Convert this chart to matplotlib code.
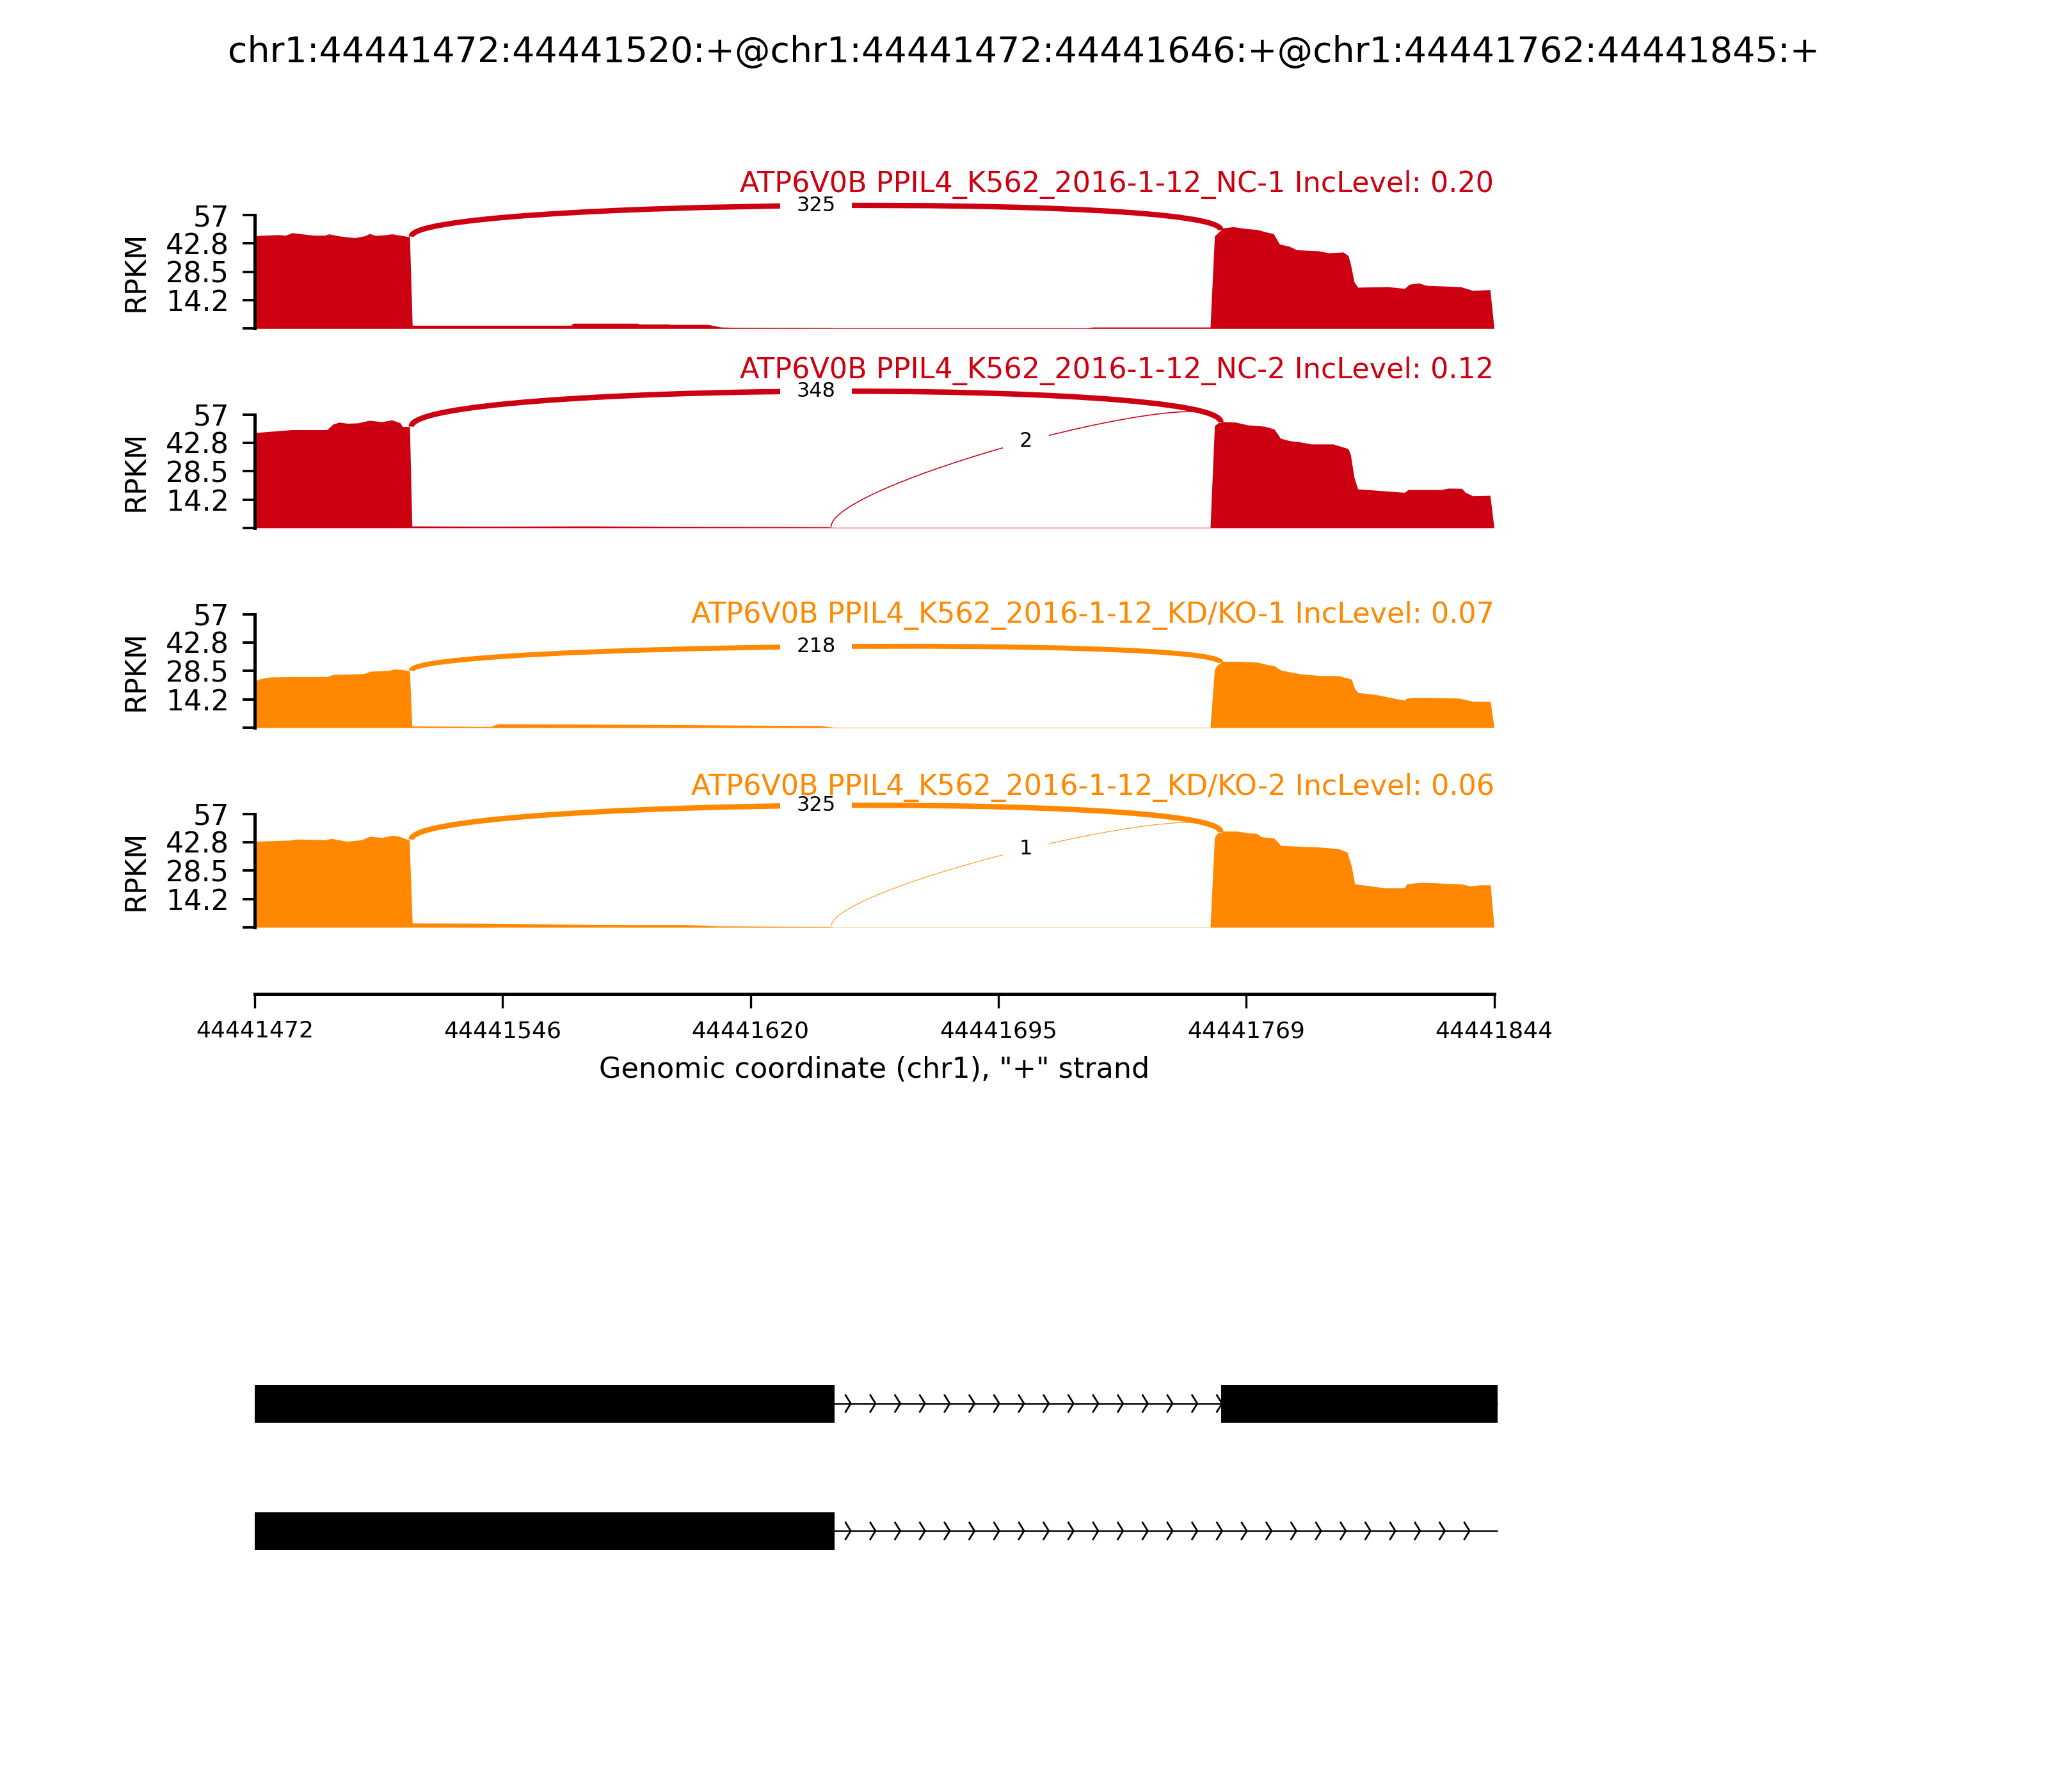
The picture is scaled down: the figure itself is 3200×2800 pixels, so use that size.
import math
import matplotlib
matplotlib.use('Agg')
import matplotlib.pyplot as plt
import numpy as np
from matplotlib.path import Path
from matplotlib.patches import PathPatch, Rectangle

plt.rcParams['font.family'] = ['DejaVu Sans']

event_title = 'chr1:44441472:44441520:+@chr1:44441472:44441646:+@chr1:44441762:44441845:+'
x_start = 44441472
x_end = 44441844

sample_names = ['ATP6V0B PPIL4_K562_2016-1-12_NC-1',
                'ATP6V0B PPIL4_K562_2016-1-12_NC-2',
                'ATP6V0B PPIL4_K562_2016-1-12_KD/KO-1',
                'ATP6V0B PPIL4_K562_2016-1-12_KD/KO-2']
inc_levels = ['0.20', '0.12', '0.07', '0.06']
sample_colors = ['#CC0011', '#CC0011', '#FF8800', '#FF8800']

# coverage: offset from x_start (bp), RPKM
nc1_pos = [0, 4, 7, 9.3, 11.2, 14.2, 17.9, 21, 22.3, 24.8, 27.5, 30.2, 33.2, 34.4, 36.3, 39, 41.2, 43.7, 45.9, 46.5, 47.3,
           95, 95.5, 114.7, 115.5, 124, 125, 136, 140, 145, 173, 174, 250, 251.5, 286.8,
           288.1, 289.2, 290.7, 293.7, 297.3, 301, 303.2, 305.8, 307.6, 310.5, 312.8, 319.3, 322.3, 326.7, 328.2,
           328.9, 330, 331.1, 340, 342.9, 345.1, 346.6, 349.5, 351.7, 361.9, 365.6, 370.8, 372]
nc1_rpkm = [46.6, 46.9, 47.1, 46.8, 48.1, 47.5, 46.8, 46.8, 47.5, 46.6, 46.0, 45.6, 46.6, 47.7, 46.7, 47.0, 47.5, 46.8, 46.2, 46.0, 1.6,
            1.6, 2.6, 2.6, 2.2, 2.2, 2.0, 2.0, 0.7, 0.5, 0.4, 0.3, 0.3, 0.7, 0.7,
            46.5, 48.2, 50.5, 51.1, 50.2, 49.7, 48.6, 47.6, 42.4, 41.3, 39.5, 39.0, 38.0, 38.4, 36.6,
            32.6, 23.4, 20.7, 21.0, 20.5, 20.1, 22.2, 22.8, 21.6, 21.0, 19.1, 19.5, 0]

nc2_pos = [0, 5.8, 11.2, 21.7, 23.5, 25.4, 27.8, 31, 34.4, 38.1, 41.2, 43.7, 44.3, 45.9, 46.5, 47.2,
           70, 100, 130, 160, 172, 173.5, 286.8,
           288.1, 289.2, 290.7, 294.4, 298, 303.2, 306, 307.9, 310.5, 313.5, 317.1, 323.7, 328.2, 328.9,
           330, 331.1, 335.5, 345.1, 346.2, 356.1, 358.3, 362.3, 363.4, 365.6, 370.8, 372]
nc2_rpkm = [47.8, 48.6, 49.3, 49.3, 52.1, 53.1, 52.5, 52.7, 54.0, 53.3, 54.2, 52.7, 50.9, 50.9, 50.8, 0.9,
            0.8, 0.9, 0.7, 0.6, 0.5, 0.2, 0.2,
            51.3, 52.8, 53.3, 53.1, 51.7, 51.0, 49.6, 45.0, 43.8, 43.2, 42.1, 42.1, 39.8, 36.9,
            25.3, 19.5, 19.0, 17.8, 19.2, 19.2, 19.9, 19.8, 17.8, 16.1, 16.3, 0]

kd1_pos = [0, 1.5, 4.6, 11.9, 21.7, 23.6, 32.8, 34.6, 40.2, 41.9, 44, 46.3, 46.5, 47.2,
           70.8, 73, 109, 140, 158, 170, 172.5, 174, 286.8,
           288.1, 288.9, 290.6, 295.5, 300.8, 304.1, 306, 308, 311.3, 313.9, 320, 325.3, 329.2, 330.2,
           331.2, 335.8, 339.2, 341.8, 345.1, 345.8, 348.4, 361.6, 365.6, 370.9, 372]
kd1_rpkm = [23.4, 24.5, 25.4, 25.6, 25.6, 26.7, 27.1, 28.3, 28.7, 29.4, 29.2, 28.6, 28.5, 0.8,
            0.55, 1.9, 1.65, 1.3, 1.1, 1.0, 0.4, 0.2, 0.2,
            29.4, 31.4, 33.3, 33.3, 32.9, 31.6, 31.1, 28.9, 27.8, 27.0, 26.1, 26.1, 24.3, 19.5,
            17.6, 16.8, 15.7, 14.8, 13.8, 14.8, 15.1, 14.8, 13.2, 13.1, 0]

kd2_pos = [0, 10.7, 12.6, 21.1, 23, 27.8, 32.1, 34.6, 38.2, 41.3, 43.2, 45.6, 46.4, 47.3,
           67.3, 73, 109, 128.5, 138.3, 172.5, 174, 286.8,
           288.1, 288.9, 290.9, 295, 298.1, 300.8, 302.1, 306, 308, 312, 318.6, 325.3, 327.9, 329.2,
           330.2, 331.2, 335.2, 339.2, 345.1, 345.8, 350.4, 357, 362.3, 364.9, 367.6, 370.9, 372]
kd2_rpkm = [43.2, 43.8, 44.3, 44.0, 44.6, 43.2, 44.0, 45.7, 45.1, 46.2, 45.8, 44.3, 44.0, 2.2,
            2.0, 1.8, 1.4, 1.4, 0.7, 0.4, 0.1, 0.1,
            45.2, 47.2, 48.3, 48.3, 47.4, 47.2, 45.5, 44.8, 41.1, 40.8, 40.4, 39.5, 37.8, 30.7,
            21.8, 21.6, 20.7, 19.8, 19.8, 21.8, 22.6, 22.1, 21.8, 20.7, 21.3, 21.3, 0]

coverage_pos = [nc1_pos, nc2_pos, kd1_pos, kd2_pos]
coverage_rpkm = [nc1_rpkm, nc2_rpkm, kd1_rpkm, kd2_rpkm]

# junctions per sample: (left splice site, right splice site, reads)
junctions = [
    [(44441519, 44441762, 325)],
    [(44441519, 44441762, 348), (44441645, 44441762, 2)],
    [(44441519, 44441762, 218)],
    [(44441519, 44441762, 325), (44441645, 44441762, 1)],
]

y_ticks = [0, 14.2, 28.5, 42.8, 57]
y_tick_labels = ['', '14.2', '28.5', '42.8', '57']
y_max = 57
x_tick_labels = ['44441472', '44441546', '44441620', '44441695', '44441769', '44441844']
x_label = 'Genomic coordinate (chr1), "+" strand'

# gene structure: exons of each isoform and the isoform end
isoform_exons = [
    [(44441472, 44441520), (44441472, 44441646), (44441762, 44441845)],
    [(44441472, 44441520), (44441472, 44441646)],
]
isoform_ends = [44441845, 44441845]

# layout (figure pixels at 400 dpi)
W, H = 3200, 2800
ax_left, ax_right = 398, 2334.5
zero_px = [513.3, 824.8, 1137, 1449]
unit_px = 3.11
y_top = 80
arc_h = [18.6, 22.2, 13.4, 20.3]
label_y = [68.7, 75.2, 52.8, 66.5]

fig = plt.figure(figsize=(8, 7), dpi=400)
fig.text(0.5, 1 - 82 / H, event_title, ha='center', va='center', fontsize=10)

axes = []
for i in range(4):
    bottom = 1 - zero_px[i] / H
    ax = fig.add_axes([ax_left / W, bottom, (ax_right - ax_left) / W, y_top * unit_px / H])
    axes.append(ax)
    color = sample_colors[i]
    xs = x_start + np.array(coverage_pos[i], dtype=float)
    ys = np.array(coverage_rpkm[i], dtype=float)
    ax.fill_between(xs, ys, 0, color=color, lw=0)

    for ss1, ss2, reads in junctions[i]:
        left_val = np.interp(ss1 - 1, xs, ys)
        right_val = np.interp(ss2, xs, ys)
        h = arc_h[i]
        pts = [(ss1, left_val), (ss1, left_val + h), (ss2, right_val + h), (ss2, right_val)]
        path = Path(pts, [Path.MOVETO, Path.CURVE4, Path.CURVE4, Path.CURVE4])
        ax.add_patch(PathPatch(path, ec=color, fc='none', lw=0.26 * math.log(reads + 1)))
        mx = (ss1 + ss2) / 2
        my = (left_val + right_val) / 2 + 0.75 * h
        ax.text(mx, my, str(reads), fontsize=5.75, ha='center', va='center', zorder=5,
                bbox=dict(facecolor='white', edgecolor='none', boxstyle='square,pad=0.8'))

    ax.text(x_end, label_y[i], f'{sample_names[i]} IncLevel: {inc_levels[i]}',
            fontsize=8, ha='right', va='baseline', color=color, zorder=6)

    ax.set_xlim(x_start, x_end)
    ax.set_ylim(0, y_top)
    for side in ['top', 'right', 'bottom']:
        ax.spines[side].set_visible(False)
    ax.spines['left'].set_bounds(0, y_max)
    ax.spines['left'].set_linewidth(0.9)
    ax.set_yticks(y_ticks)
    ax.set_yticklabels(y_tick_labels)
    ax.tick_params(axis='y', length=3.4, width=0.7, labelsize=8, pad=3.8)
    ax.set_ylabel('RPKM', fontsize=8)
    ax.yaxis.set_label_coords(-0.0847, (y_max / 2) / y_top)
    ax.set_xticks([])

last = axes[-1]
last.spines['bottom'].set_visible(True)
last.spines['bottom'].set_position(('outward', 18.7))
last.spines['bottom'].set_linewidth(0.9)
last.set_xticks(np.linspace(x_start, x_end, len(x_tick_labels)))
last.set_xticklabels(x_tick_labels)
last.tick_params(axis='x', length=4, width=0.6, labelsize=6.5, pad=3.4)
last.set_xlabel(x_label, fontsize=8, labelpad=4)

# gene structure track
gax = fig.add_axes([ax_left / W, 1 - 2500 / H, (ax_right - ax_left) / W, 400 / H])
gax.set_xlim(x_start, x_end)
gax.set_ylim(0, 400)
gax.axis('off')
track_y = [307, 108]
box_half = 29.5
chev_half, chev_w = 13, 1.55
arrow_first, arrow_step = 4.9, 7.43
for k, exons in enumerate(isoform_exons):
    yc = track_y[k]
    gax.plot([x_start, isoform_ends[k]], [yc, yc], color='black', lw=0.45, clip_on=False,
             zorder=1, solid_capstyle='butt')
    for s, e in exons:
        gax.add_patch(Rectangle((s, yc - box_half), e - s, 2 * box_half, fc='black', ec='none',
                                clip_on=False, zorder=3))
    # chevrons along the intron after the first exon
    intron_start = max(e for s, e in exons if s == x_start)
    nxt = [s for s, e in exons if s > intron_start]
    intron_end = nxt[0] if nxt else isoform_ends[k]
    stop = min(intron_end + 0.5, x_end)
    for tip in np.arange(intron_start + arrow_first, stop, arrow_step):
        gax.plot([tip - chev_w, tip, tip - chev_w], [yc + chev_half, yc, yc - chev_half],
                 color='black', lw=0.5, clip_on=False, zorder=2)

fig.savefig('out.png', dpi=400)
